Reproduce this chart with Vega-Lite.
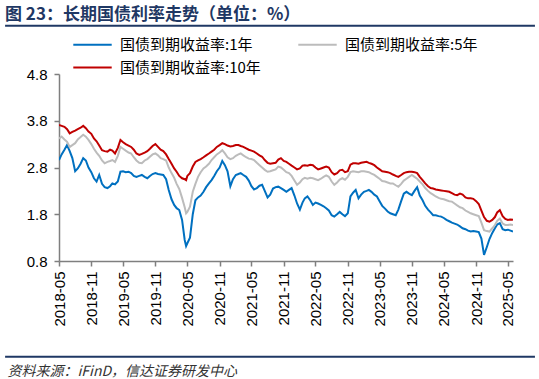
{
  "$schema": "https://vega.github.io/schema/vega-lite/v6.json",
  "width": 454,
  "height": 187,
  "autosize": {"type": "none"},
  "padding": {"left": 59, "top": 74, "right": 26, "bottom": 118},
  "background": "white",
  "title": {
    "text": "图 23：长期国债利率走势（单位：%）",
    "anchor": "start",
    "frame": "group",
    "dx": -54,
    "dy": 3,
    "offset": 4,
    "fontSize": 17,
    "fontWeight": "bold",
    "color": "#1f3864",
    "font": "Noto Sans CJK SC"
  },
  "config": {
    "view": {"stroke": null},
    "axis": {"grid": false, "labelFont": "Liberation Sans", "labelColor": "#000000", "domainColor": "#7f7f7f", "tickColor": "#7f7f7f", "domainWidth": 1.5, "tickWidth": 1.5}
  },
  "layer": [
    {
      "data": {
        "values": [
          {"d":"2018-05-01","y1":2.96,"y5":3.42,"y10":3.71},
          {"d":"2018-05-16","y1":3.08,"y5":3.46,"y10":3.69},
          {"d":"2018-06-01","y1":3.18,"y5":3.40,"y10":3.67},
          {"d":"2018-06-16","y1":3.28,"y5":3.35,"y10":3.62},
          {"d":"2018-07-01","y1":3.15,"y5":3.24,"y10":3.53},
          {"d":"2018-07-16","y1":3.00,"y5":3.28,"y10":3.56},
          {"d":"2018-08-01","y1":2.72,"y5":3.32,"y10":3.59},
          {"d":"2018-08-16","y1":2.78,"y5":3.40,"y10":3.62},
          {"d":"2018-09-01","y1":2.88,"y5":3.45,"y10":3.65},
          {"d":"2018-09-16","y1":3.00,"y5":3.50,"y10":3.69},
          {"d":"2018-10-01","y1":2.95,"y5":3.46,"y10":3.64},
          {"d":"2018-10-16","y1":2.80,"y5":3.39,"y10":3.57},
          {"d":"2018-11-01","y1":2.70,"y5":3.30,"y10":3.52},
          {"d":"2018-11-16","y1":2.57,"y5":3.20,"y10":3.42},
          {"d":"2018-12-01","y1":2.50,"y5":3.12,"y10":3.36},
          {"d":"2018-12-16","y1":2.64,"y5":3.05,"y10":3.27},
          {"d":"2019-01-01","y1":2.45,"y5":2.95,"y10":3.17},
          {"d":"2019-01-16","y1":2.38,"y5":2.89,"y10":3.15},
          {"d":"2019-02-01","y1":2.36,"y5":2.92,"y10":3.14},
          {"d":"2019-02-16","y1":2.40,"y5":2.94,"y10":3.18},
          {"d":"2019-03-01","y1":2.46,"y5":2.96,"y10":3.16},
          {"d":"2019-03-16","y1":2.44,"y5":2.92,"y10":3.10},
          {"d":"2019-04-01","y1":2.50,"y5":3.05,"y10":3.22},
          {"d":"2019-04-16","y1":2.71,"y5":3.24,"y10":3.39},
          {"d":"2019-05-01","y1":2.72,"y5":3.20,"y10":3.34},
          {"d":"2019-05-16","y1":2.70,"y5":3.16,"y10":3.30},
          {"d":"2019-06-01","y1":2.71,"y5":3.12,"y10":3.27},
          {"d":"2019-06-16","y1":2.68,"y5":3.10,"y10":3.24},
          {"d":"2019-07-01","y1":2.62,"y5":3.02,"y10":3.18},
          {"d":"2019-07-16","y1":2.60,"y5":2.95,"y10":3.10},
          {"d":"2019-08-01","y1":2.62,"y5":2.90,"y10":3.07},
          {"d":"2019-08-16","y1":2.64,"y5":2.89,"y10":3.09},
          {"d":"2019-09-01","y1":2.60,"y5":2.95,"y10":3.12},
          {"d":"2019-09-16","y1":2.57,"y5":2.98,"y10":3.15},
          {"d":"2019-10-01","y1":2.62,"y5":3.03,"y10":3.20},
          {"d":"2019-10-16","y1":2.66,"y5":3.08,"y10":3.26},
          {"d":"2019-11-01","y1":2.68,"y5":3.10,"y10":3.30},
          {"d":"2019-11-16","y1":2.66,"y5":3.06,"y10":3.24},
          {"d":"2019-12-01","y1":2.65,"y5":3.00,"y10":3.18},
          {"d":"2019-12-16","y1":2.64,"y5":2.98,"y10":3.15},
          {"d":"2020-01-01","y1":2.55,"y5":2.95,"y10":3.08},
          {"d":"2020-01-16","y1":2.32,"y5":2.80,"y10":2.98},
          {"d":"2020-02-01","y1":2.12,"y5":2.68,"y10":2.88},
          {"d":"2020-02-16","y1":2.00,"y5":2.58,"y10":2.78},
          {"d":"2020-03-01","y1":1.93,"y5":2.45,"y10":2.71},
          {"d":"2020-03-16","y1":1.89,"y5":2.34,"y10":2.62},
          {"d":"2020-04-01","y1":1.68,"y5":2.15,"y10":2.57},
          {"d":"2020-04-16","y1":1.25,"y5":1.95,"y10":2.55},
          {"d":"2020-04-24","y1":1.12,"y5":1.82,"y10":2.53},
          {"d":"2020-05-01","y1":1.18,"y5":1.85,"y10":2.62},
          {"d":"2020-05-16","y1":1.30,"y5":1.96,"y10":2.68},
          {"d":"2020-06-01","y1":1.80,"y5":2.28,"y10":2.82},
          {"d":"2020-06-16","y1":2.10,"y5":2.45,"y10":2.92},
          {"d":"2020-07-01","y1":2.16,"y5":2.60,"y10":2.95},
          {"d":"2020-07-16","y1":2.20,"y5":2.70,"y10":2.98},
          {"d":"2020-08-01","y1":2.28,"y5":2.78,"y10":3.02},
          {"d":"2020-08-16","y1":2.38,"y5":2.82,"y10":3.06},
          {"d":"2020-09-01","y1":2.46,"y5":2.88,"y10":3.10},
          {"d":"2020-09-16","y1":2.53,"y5":2.96,"y10":3.14},
          {"d":"2020-10-01","y1":2.62,"y5":3.02,"y10":3.18},
          {"d":"2020-10-16","y1":2.72,"y5":3.08,"y10":3.24},
          {"d":"2020-11-01","y1":2.80,"y5":3.12,"y10":3.28},
          {"d":"2020-11-16","y1":2.94,"y5":3.17,"y10":3.32},
          {"d":"2020-12-01","y1":2.85,"y5":3.10,"y10":3.30},
          {"d":"2020-12-16","y1":2.72,"y5":3.02,"y10":3.27},
          {"d":"2021-01-01","y1":2.40,"y5":2.98,"y10":3.25},
          {"d":"2021-01-16","y1":2.55,"y5":3.00,"y10":3.26},
          {"d":"2021-02-01","y1":2.64,"y5":3.05,"y10":3.28},
          {"d":"2021-02-16","y1":2.66,"y5":3.08,"y10":3.28},
          {"d":"2021-03-01","y1":2.68,"y5":3.10,"y10":3.26},
          {"d":"2021-03-16","y1":2.64,"y5":3.06,"y10":3.24},
          {"d":"2021-04-01","y1":2.60,"y5":3.02,"y10":3.21},
          {"d":"2021-04-16","y1":2.52,"y5":2.99,"y10":3.18},
          {"d":"2021-05-01","y1":2.40,"y5":2.98,"y10":3.16},
          {"d":"2021-05-16","y1":2.33,"y5":2.96,"y10":3.14},
          {"d":"2021-06-01","y1":2.36,"y5":2.90,"y10":3.10},
          {"d":"2021-06-16","y1":2.41,"y5":2.85,"y10":3.06},
          {"d":"2021-07-01","y1":2.43,"y5":2.80,"y10":3.03},
          {"d":"2021-07-16","y1":2.30,"y5":2.75,"y10":2.96},
          {"d":"2021-08-01","y1":2.16,"y5":2.71,"y10":2.90},
          {"d":"2021-08-16","y1":2.22,"y5":2.72,"y10":2.88},
          {"d":"2021-09-01","y1":2.35,"y5":2.74,"y10":2.89},
          {"d":"2021-09-16","y1":2.38,"y5":2.76,"y10":2.90},
          {"d":"2021-10-01","y1":2.39,"y5":2.82,"y10":2.97},
          {"d":"2021-10-16","y1":2.36,"y5":2.80,"y10":3.00},
          {"d":"2021-11-01","y1":2.32,"y5":2.75,"y10":2.94},
          {"d":"2021-11-16","y1":2.28,"y5":2.70,"y10":2.92},
          {"d":"2021-12-01","y1":2.32,"y5":2.68,"y10":2.88},
          {"d":"2021-12-16","y1":2.36,"y5":2.62,"y10":2.84},
          {"d":"2022-01-01","y1":2.20,"y5":2.52,"y10":2.80},
          {"d":"2022-01-16","y1":2.03,"y5":2.43,"y10":2.76},
          {"d":"2022-02-01","y1":1.90,"y5":2.48,"y10":2.78},
          {"d":"2022-02-16","y1":2.05,"y5":2.55,"y10":2.84},
          {"d":"2022-03-01","y1":2.14,"y5":2.58,"y10":2.85},
          {"d":"2022-03-16","y1":2.18,"y5":2.56,"y10":2.84},
          {"d":"2022-04-01","y1":2.10,"y5":2.58,"y10":2.86},
          {"d":"2022-04-16","y1":2.00,"y5":2.57,"y10":2.85},
          {"d":"2022-05-01","y1":2.05,"y5":2.55,"y10":2.80},
          {"d":"2022-05-16","y1":2.03,"y5":2.53,"y10":2.76},
          {"d":"2022-06-01","y1":2.00,"y5":2.56,"y10":2.78},
          {"d":"2022-06-16","y1":1.97,"y5":2.60,"y10":2.80},
          {"d":"2022-07-01","y1":1.93,"y5":2.63,"y10":2.82},
          {"d":"2022-07-16","y1":1.88,"y5":2.60,"y10":2.80},
          {"d":"2022-08-01","y1":1.78,"y5":2.50,"y10":2.70},
          {"d":"2022-08-16","y1":1.75,"y5":2.43,"y10":2.65},
          {"d":"2022-09-01","y1":1.80,"y5":2.48,"y10":2.68},
          {"d":"2022-09-16","y1":1.85,"y5":2.54,"y10":2.74},
          {"d":"2022-10-01","y1":1.80,"y5":2.57,"y10":2.75},
          {"d":"2022-10-16","y1":1.76,"y5":2.54,"y10":2.70},
          {"d":"2022-11-01","y1":1.82,"y5":2.60,"y10":2.72},
          {"d":"2022-11-16","y1":2.18,"y5":2.70,"y10":2.86},
          {"d":"2022-12-01","y1":2.26,"y5":2.72,"y10":2.89},
          {"d":"2022-12-16","y1":2.32,"y5":2.71,"y10":2.89},
          {"d":"2023-01-01","y1":2.14,"y5":2.70,"y10":2.88},
          {"d":"2023-01-16","y1":2.22,"y5":2.72,"y10":2.90},
          {"d":"2023-02-01","y1":2.28,"y5":2.72,"y10":2.91},
          {"d":"2023-02-16","y1":2.30,"y5":2.71,"y10":2.92},
          {"d":"2023-03-01","y1":2.32,"y5":2.70,"y10":2.90},
          {"d":"2023-03-16","y1":2.28,"y5":2.67,"y10":2.88},
          {"d":"2023-04-01","y1":2.22,"y5":2.64,"y10":2.85},
          {"d":"2023-04-16","y1":2.18,"y5":2.60,"y10":2.80},
          {"d":"2023-05-01","y1":2.08,"y5":2.56,"y10":2.76},
          {"d":"2023-05-16","y1":1.98,"y5":2.51,"y10":2.72},
          {"d":"2023-06-01","y1":1.92,"y5":2.50,"y10":2.71},
          {"d":"2023-06-16","y1":1.86,"y5":2.48,"y10":2.70},
          {"d":"2023-07-01","y1":1.82,"y5":2.46,"y10":2.68},
          {"d":"2023-07-16","y1":1.80,"y5":2.46,"y10":2.65},
          {"d":"2023-08-01","y1":1.78,"y5":2.42,"y10":2.62},
          {"d":"2023-08-16","y1":1.90,"y5":2.39,"y10":2.60},
          {"d":"2023-09-01","y1":2.08,"y5":2.45,"y10":2.64},
          {"d":"2023-09-16","y1":2.24,"y5":2.52,"y10":2.68},
          {"d":"2023-10-01","y1":2.28,"y5":2.56,"y10":2.70},
          {"d":"2023-10-16","y1":2.24,"y5":2.60,"y10":2.71},
          {"d":"2023-11-01","y1":2.21,"y5":2.64,"y10":2.71},
          {"d":"2023-11-16","y1":2.30,"y5":2.60,"y10":2.70},
          {"d":"2023-12-01","y1":2.38,"y5":2.56,"y10":2.68},
          {"d":"2023-12-16","y1":2.20,"y5":2.50,"y10":2.60},
          {"d":"2024-01-01","y1":2.10,"y5":2.44,"y10":2.53},
          {"d":"2024-01-16","y1":1.98,"y5":2.36,"y10":2.46},
          {"d":"2024-02-01","y1":1.90,"y5":2.30,"y10":2.40},
          {"d":"2024-02-16","y1":1.84,"y5":2.25,"y10":2.36},
          {"d":"2024-03-01","y1":1.78,"y5":2.22,"y10":2.35},
          {"d":"2024-03-16","y1":1.78,"y5":2.18,"y10":2.33},
          {"d":"2024-04-01","y1":1.76,"y5":2.15,"y10":2.32},
          {"d":"2024-04-16","y1":1.75,"y5":2.13,"y10":2.31},
          {"d":"2024-05-01","y1":1.72,"y5":2.12,"y10":2.30},
          {"d":"2024-05-16","y1":1.68,"y5":2.10,"y10":2.29},
          {"d":"2024-06-01","y1":1.65,"y5":2.08,"y10":2.28},
          {"d":"2024-06-16","y1":1.62,"y5":2.07,"y10":2.25},
          {"d":"2024-07-01","y1":1.60,"y5":2.03,"y10":2.22},
          {"d":"2024-07-16","y1":1.58,"y5":1.99,"y10":2.21},
          {"d":"2024-08-01","y1":1.54,"y5":1.95,"y10":2.24},
          {"d":"2024-08-16","y1":1.50,"y5":1.93,"y10":2.22},
          {"d":"2024-09-01","y1":1.48,"y5":1.88,"y10":2.16},
          {"d":"2024-09-16","y1":1.45,"y5":1.85,"y10":2.14},
          {"d":"2024-10-01","y1":1.43,"y5":1.82,"y10":2.14},
          {"d":"2024-10-16","y1":1.44,"y5":1.80,"y10":2.13},
          {"d":"2024-11-01","y1":1.43,"y5":1.78,"y10":2.08},
          {"d":"2024-11-16","y1":1.42,"y5":1.76,"y10":2.02},
          {"d":"2024-12-01","y1":1.28,"y5":1.62,"y10":1.88},
          {"d":"2024-12-16","y1":0.93,"y5":1.46,"y10":1.74},
          {"d":"2025-01-01","y1":1.10,"y5":1.44,"y10":1.66},
          {"d":"2025-01-16","y1":1.27,"y5":1.43,"y10":1.64},
          {"d":"2025-02-01","y1":1.40,"y5":1.50,"y10":1.68},
          {"d":"2025-02-16","y1":1.50,"y5":1.57,"y10":1.74},
          {"d":"2025-03-01","y1":1.58,"y5":1.66,"y10":1.84},
          {"d":"2025-03-16","y1":1.61,"y5":1.71,"y10":1.89},
          {"d":"2025-04-01","y1":1.48,"y5":1.60,"y10":1.76},
          {"d":"2025-04-16","y1":1.46,"y5":1.57,"y10":1.70},
          {"d":"2025-05-01","y1":1.47,"y5":1.57,"y10":1.68},
          {"d":"2025-05-16","y1":1.45,"y5":1.58,"y10":1.69},
          {"d":"2025-05-30","y1":1.43,"y5":1.57,"y10":1.68}
        ]
      },
      "transform": [{"fold": ["y1", "y5", "y10"], "as": ["s", "v"]}],
      "mark": {"type": "line", "strokeWidth": 2, "clip": true},
      "encoding": {
        "x": {
          "field": "d",
          "type": "temporal",
          "scale": {"type": "utc", "domain": [1525132800000, 1748563200000], "nice": false},
          "axis": {
            "values": [1525132800000, 1541030400000, 1556668800000, 1572566400000, 1588291200000, 1604188800000, 1619827200000, 1635724800000, 1651363200000, 1667260800000, 1682899200000, 1698796800000, 1714521600000, 1730419200000, 1746057600000],
            "tickCount": 30,
            "labelExpr": "utcFormat(datum.value, '%Y-%m')",
            "labelAngle": -90,
            "labelFontSize": 15,
            "labelPadding": 5,
            "labelOverlap": false,
            "labelFlush": false,
            "tickSize": 5,
            "title": "资料来源：iFinD，信达证券研发中心",
            "titleFont": "Noto Sans CJK SC",
            "titleFontSize": 14,
            "titleFontStyle": "italic",
            "titleFontWeight": "normal",
            "titleColor": "#333333",
            "titleAnchor": "start",
            "titleAlign": "left",
            "titleBaseline": "middle",
            "titleAngle": 0,
            "titleX": -52,
            "titleY": 110
          }
        },
        "y": {
          "field": "v",
          "type": "quantitative",
          "scale": {"domain": [0.8, 4.8], "nice": false, "zero": false},
          "axis": {
            "values": [0.8, 1.8, 2.8, 3.8, 4.8],
            "format": ".1f",
            "labelFontSize": 15,
            "labelPadding": 7,
            "tickSize": 5,
            "title": null
          }
        },
        "color": {
          "field": "s",
          "type": "nominal",
          "scale": {"domain": ["y1", "y5", "y10"], "range": ["#0070c0", "#bcbcbc", "#c00000"]},
          "legend": {
            "orient": "none",
            "legendX": 26,
            "legendY": -37,
            "columns": 2,
            "direction": "horizontal",
            "title": null,
            "padding": 0,
            "symbolType": "M-3,0H3",
            "symbolSize": 164,
            "symbolStrokeWidth": 2,
            "labelFont": "Noto Sans CJK SC",
            "labelFontSize": 15,
            "labelColor": "#000000",
            "labelOffset": 20,
            "labelLimit": 300,
            "columnPadding": 33,
            "rowPadding": 7,
            "labelExpr": "datum.label == 'y1' ? '国债到期收益率:1年' : datum.label == 'y5' ? '国债到期收益率:5年' : '国债到期收益率:10年'"
          }
        }
      }
    },
    {
      "data": {"values": [{}]},
      "mark": {"type": "rule", "color": "#1f3864", "strokeWidth": 2},
      "encoding": {
        "x": {"datum": 1498608000000, "type": "temporal"},
        "x2": {"datum": 1759363200000},
        "y": {"datum": 5.83, "type": "quantitative"}
      }
    },
    {
      "data": {"values": [{}]},
      "mark": {"type": "rule", "color": "#1f3864", "strokeWidth": 2},
      "encoding": {
        "x": {"datum": 1498608000000, "type": "temporal"},
        "x2": {"datum": 1759363200000},
        "y": {"datum": -1.25, "type": "quantitative"}
      }
    }
  ]
}
